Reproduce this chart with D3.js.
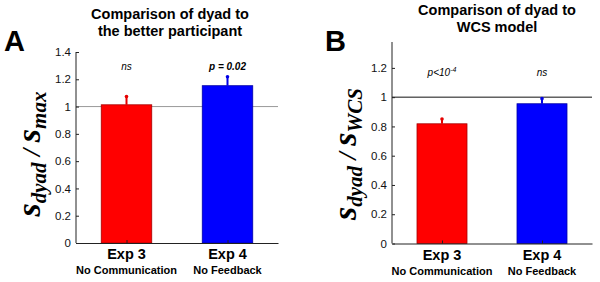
<!DOCTYPE html>
<html>
<head>
<meta charset="utf-8">
<script src="https://cdn.jsdelivr.net/npm/d3@7"></script>
<style>
  body { margin: 0; background: #fff; }
  svg { display: block; }
</style>
</head>
<body>
<div id="chart"></div>
<script>
// two bar panels (A, B): dyad ratio vs reference, upper-only error bars
const categories = ["Exp 3", "Exp 4"];
const subLabels = ["No Communication", "No Feedback"];
const barColors = ["#ff0000", "#0000ff"];

const valuesA = [1.013, 1.153];
const errorsA = [0.06, 0.066];
const sigA = ["ns", "p = 0.02"];
const ticksA = [0, 0.2, 0.4, 0.6, 0.8, 1, 1.2, 1.4];

const valuesB = [0.818, 0.955];
const errorsB = [0.032, 0.035];
const sigB = ["p<10", "ns"];
const ticksB = [0, 0.2, 0.4, 0.6, 0.8, 1, 1.2];

const width = 600, height = 282;

const svg = d3.select("#chart").append("svg")
  .attr("width", width)
  .attr("height", height)
  .style("font-family", "Arial, 'Liberation Sans', sans-serif");

function drawPanel(opt) {
  const x = d3.scaleLinear().domain([0.5, 2.5]).range([opt.left, opt.right]);
  const y = d3.scaleLinear().domain([0, opt.ymax]).range([opt.bottom, opt.top]);
  const bw = x(1.5) - x(1); // bar width 0.5 units

  // reference line at 1
  svg.append("line")
    .attr("x1", x(0.5)).attr("x2", x(2.5))
    .attr("y1", y(1)).attr("y2", y(1))
    .attr("stroke", opt.refColor).attr("stroke-width", 1);

  // bars
  svg.append("g").selectAll("rect")
    .data(opt.values)
    .join("rect")
    .attr("x", (d, i) => x(i + 1) - bw / 2)
    .attr("y", d => y(d))
    .attr("width", bw)
    .attr("height", d => y(0) - y(d))
    .attr("fill", (d, i) => barColors[i])
    .attr("stroke", (d, i) => d3.color(barColors[i]).darker(1.2))
    .attr("stroke-width", 0.8);

  // error bars (upper only)
  const eg = svg.append("g");
  opt.values.forEach((d, i) => {
    const c = d3.color(barColors[i]).darker(0.3);
    eg.append("line")
      .attr("x1", x(i + 1)).attr("x2", x(i + 1))
      .attr("y1", y(d)).attr("y2", y(d + opt.errors[i]))
      .attr("stroke", c).attr("stroke-width", 2);
    eg.append("circle")
      .attr("cx", x(i + 1)).attr("cy", y(d + opt.errors[i]))
      .attr("r", 1.8).attr("fill", c);
  });

  // axes
  const yAxis = svg.append("g")
    .attr("transform", `translate(${opt.left},0)`)
    .call(d3.axisLeft(y).tickValues(opt.ticks).tickFormat(d => String(d))
      .tickSizeInner(-3).tickSizeOuter(0).tickPadding(5));
  yAxis.select(".domain").attr("stroke", "#222").attr("d", `M0,${opt.top}V${opt.bottom}`);
  yAxis.selectAll(".tick line").attr("stroke", "#222");
  yAxis.selectAll("text").attr("font-size", 11.5).attr("fill", "#111");

  const xAxis = svg.append("g")
    .attr("transform", `translate(0,${opt.bottom})`)
    .call(d3.axisBottom(x).tickValues([1, 2]).tickFormat("")
      .tickSizeInner(-3).tickSizeOuter(0));
  xAxis.select(".domain").attr("stroke", "#222");
  xAxis.selectAll(".tick line").attr("stroke", "#222");

  // category labels
  categories.forEach((c, i) => {
    svg.append("text")
      .attr("x", x(i + 1)).attr("y", opt.bottom + 16)
      .attr("text-anchor", "middle")
      .attr("font-size", 14.5).attr("font-weight", "bold")
      .text(c);
    svg.append("text")
      .attr("x", x(i + 1)).attr("y", opt.bottom + 31)
      .attr("text-anchor", "middle")
      .attr("font-size", 11).attr("font-weight", "bold")
      .text(subLabels[i]);
  });

  // significance labels
  opt.sig.forEach((s, i) => {
    const t = svg.append("text")
      .attr("x", x(i + 1)).attr("y", opt.sigY)
      .attr("text-anchor", "middle")
      .attr("font-size", 10).attr("font-style", "italic")
      .attr("font-weight", s === "ns" ? "normal" : "bold")
      .text(s);
    if (s === "p<10") {
      t.attr("font-weight", "normal");
      t.append("tspan").attr("font-size", 7).attr("dy", -4).text("-4");
    }
  });

  // title
  opt.title.forEach((line, k) => {
    svg.append("text")
      .attr("x", opt.titleX).attr("y", opt.titleY + k * 17)
      .attr("text-anchor", "middle")
      .attr("font-size", 14.5).attr("font-weight", "bold")
      .text(line);
  });

  // panel letter
  svg.append("text")
    .attr("x", opt.letterX).attr("y", 51)
    .attr("font-size", 29).attr("font-weight", "bold")
    .text(opt.letter);

  // y label: s_dyad / s_ref
  const yl = svg.append("text")
    .attr("transform", `translate(${opt.labelX},${opt.labelY}) rotate(-90)`)
    .attr("text-anchor", "middle")
    .attr("font-family", "'Liberation Serif', 'Times New Roman', serif")
    .attr("font-style", "italic").attr("font-weight", "bold");
  yl.append("tspan").attr("font-size", 34).text("s");
  yl.append("tspan").attr("font-size", 21).attr("dy", 6).text("dyad");
  yl.append("tspan").attr("font-size", 26).attr("dy", -6).text(" / ");
  yl.append("tspan").attr("font-size", 34).text("s");
  yl.append("tspan").attr("font-size", 21).attr("dy", 6).text(opt.sub);
}

drawPanel({
  left: 76, right: 278, top: 52, bottom: 243, ymax: 1.4,
  values: valuesA, errors: errorsA, sig: sigA, ticks: ticksA, sigY: 70,
  refColor: "#999", title: ["Comparison of dyad to", "the better participant"],
  titleX: 170, titleY: 19, letter: "A", letterX: 4, sub: "max",
  labelX: 40, labelY: 154
});

drawPanel({
  left: 392, right: 592, top: 42, bottom: 243.5, ymax: 1.377,
  values: valuesB, errors: errorsB, sig: sigB, ticks: ticksB, sigY: 76,
  refColor: "#111", title: ["Comparison of dyad to", "WCS model"],
  titleX: 497, titleY: 15, letter: "B", letterX: 325, sub: "WCS",
  labelX: 356, labelY: 154
});
</script>
</body>
</html>
